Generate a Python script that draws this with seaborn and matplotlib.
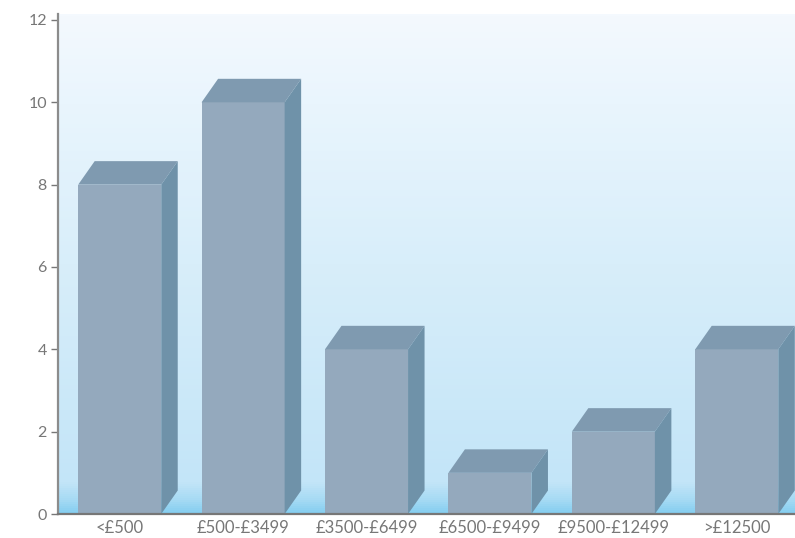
import numpy as np
import pandas as pd
import matplotlib
matplotlib.use("Agg")
import matplotlib.pyplot as plt
from matplotlib.colors import LinearSegmentedColormap
from matplotlib.patches import Polygon
import seaborn as sns

categories = ["<£500", "£500-£3499", "£3500-£6499", "£6500-£9499", "£9500-£12499", ">£12500"]
values = [8, 10, 4, 1, 2, 4]
y_ticks = [0, 2, 4, 6, 8, 10, 12]

FRONT = "#94a9bd"
TOP = "#7f9ab0"
SIDE = "#6f92a9"
TEXT = "#777777"
W, H = 795, 538
L, R, T, B = 58, 795, 14, 514

sns.set_theme(style="white")
plt.rcParams["font.family"] = ["Lato", "DejaVu Sans"]

fig = plt.figure(figsize=(W / 100, H / 100), dpi=100, facecolor="white")
ax = fig.add_axes([L / W, 1 - B / H, (R - L) / W, (B - T) / H])

df = pd.DataFrame({"band": categories, "count": values})
sns.barplot(data=df, x="band", y="count", color=FRONT, saturation=1, width=0.673,
            ax=ax, zorder=3, linewidth=0)

ax.set_xlim(-0.5, 5.472)
ax.set_ylim(0, 12.145)

# background gradient
stops = [(0.0, "#f4f9fe"), (0.18, "#e9f5fd"), (0.5, "#d8eefa"), (0.94, "#c3e5f8"),
         (0.975, "#a5daf4"), (1.0, "#84cdf0")]
cmap = LinearSegmentedColormap.from_list("bg", stops)
ax.imshow(np.linspace(0, 1, 500).reshape(-1, 1), cmap=cmap, aspect="auto",
          extent=(*ax.get_xlim(), *ax.get_ylim()), origin="upper", zorder=0)
ax.set_xlim(-0.5, 5.472)
ax.set_ylim(0, 12.145)

# pseudo-3D depth derived from each drawn bar
dx = 16.5 / ((R - L) / 5.972)
dy = 23.5 / ((B - T) / 12.145)
for bar in ax.patches:
    x0, w, h = bar.get_x(), bar.get_width(), bar.get_height()
    x1 = x0 + w
    ax.add_patch(Polygon([(x0, h), (x1, h), (x1 + dx, h + dy), (x0 + dx, h + dy)],
                         closed=True, fc=TOP, ec="none", zorder=3))
    ax.add_patch(Polygon([(x1, 0), (x1 + dx, dy), (x1 + dx, h + dy), (x1, h)],
                         closed=True, fc=SIDE, ec="none", zorder=3))

ax.set_xlabel("")
ax.set_ylabel("")
ax.set_yticks(y_ticks)
ax.set_yticklabels([str(v) for v in y_ticks])
ax.tick_params(axis="y", length=5, width=1, color="#777777", labelcolor=TEXT,
               labelsize=11.5, pad=3, left=True)
ax.tick_params(axis="x", length=0, labelcolor=TEXT, labelsize=12, pad=4.5)
for s in ("top", "right"):
    ax.spines[s].set_visible(False)
ax.spines["left"].set_color("#8c8c8c")
ax.spines["left"].set_linewidth(1.6)
ax.spines["bottom"].set_color("#777777")
ax.spines["bottom"].set_linewidth(1.6)
for s in ax.spines.values():
    s.set_zorder(5)

fig.savefig("out.png", dpi=100, facecolor="white")
